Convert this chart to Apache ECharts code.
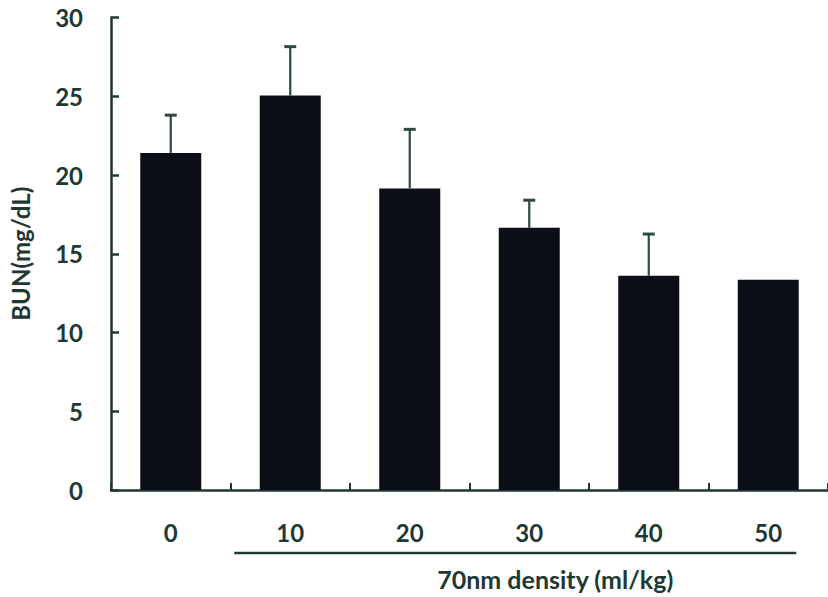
<!DOCTYPE html>
<html>
<head>
<meta charset="utf-8">
<script src="https://cdn.jsdelivr.net/npm/echarts@6/dist/echarts.min.js"></script>
<style>
  html, body { margin: 0; padding: 0; background: #ffffff; }
  #chart { width: 828px; height: 597px; }
</style>
</head>
<body>
<div id="chart"></div>
<script>
// BUN by 70nm particle dose
const categories = ['0', '10', '20', '30', '40', '50'];
const bunMeans = [21.4, 25.05, 19.15, 16.65, 13.6, 13.35];
const bunErrors = [2.4, 3.1, 3.75, 1.75, 2.65, null];
const yMin = 0;
const yMax = 30;
const yStep = 5;

const inkColor = '#1f3833';
const barColor = '#0b0d17';
const errColor = '#2e4844';
const fontFamily = 'Lato, "Open Sans", sans-serif';

const chart = echarts.init(document.getElementById('chart'), null, { renderer: 'svg' });

const errorData = categories.map((c, i) => [i, bunMeans[i], bunErrors[i]]);

chart.setOption({
  animation: false,
  backgroundColor: '#ffffff',
  grid: { left: 109, right: -5, top: 17.5, bottom: 107, containLabel: false },
  xAxis: {
    type: 'category',
    data: categories,
    boundaryGap: true,
    axisLine: { show: true, lineStyle: { color: inkColor, width: 2.5 } },
    axisTick: { show: true, inside: true, length: 7, lineStyle: { color: inkColor, width: 2 } },
    axisLabel: {
      margin: 30,
      color: inkColor,
      fontSize: 24,
      fontWeight: 'bold',
      fontFamily: fontFamily
    },
    splitLine: { show: false }
  },
  yAxis: {
    type: 'value',
    min: yMin,
    max: yMax,
    interval: yStep,
    name: 'BUN(mg/dL)',
    nameLocation: 'middle',
    nameGap: 79,
    nameTextStyle: {
      color: inkColor,
      fontSize: 24,
      fontWeight: 'bold',
      fontFamily: fontFamily
    },
    axisLine: { show: true, lineStyle: { color: inkColor, width: 2.5 } },
    axisTick: { show: true, inside: true, length: 8, lineStyle: { color: inkColor, width: 2.5 } },
    axisLabel: {
      margin: 28,
      color: inkColor,
      fontSize: 24,
      fontWeight: 'bold',
      fontFamily: fontFamily
    },
    splitLine: { show: false }
  },
  series: [
    {
      type: 'bar',
      data: bunMeans,
      barWidth: 61,
      itemStyle: { color: barColor },
      z: 2
    },
    {
      type: 'custom',
      data: errorData,
      z: 3,
      renderItem: function (params, api) {
        const err = api.value(2);
        if (err === null || err === undefined || isNaN(err) || err === '-') return null;
        const idx = api.value(0);
        const mean = api.value(1);
        const base = api.coord([idx, mean]);
        const top = api.coord([idx, mean + err]);
        const capHalf = 6;
        return {
          type: 'group',
          children: [
            {
              type: 'line',
              shape: { x1: base[0], y1: base[1], x2: top[0], y2: top[1] },
              style: { stroke: errColor, lineWidth: 2.2 }
            },
            {
              type: 'line',
              shape: { x1: top[0] - capHalf, y1: top[1], x2: top[0] + capHalf, y2: top[1] },
              style: { stroke: errColor, lineWidth: 3 }
            }
          ]
        };
      }
    }
  ]
});

// Group underline and axis title below the dosed categories
const x10 = chart.convertToPixel({ xAxisIndex: 0 }, categories[1]);
const x50 = chart.convertToPixel({ xAxisIndex: 0 }, categories[5]);
const y0 = chart.convertToPixel({ yAxisIndex: 0 }, yMin);
chart.setOption({
  graphic: [
    {
      type: 'line',
      shape: { x1: x10 - 56, y1: y0 + 63, x2: x50 + 28, y2: y0 + 63 },
      style: { stroke: inkColor, lineWidth: 2.5 }
    },
    {
      type: 'text',
      x: (x10 + x50) / 2 + 26,
      y: y0 + 89,
      style: {
        text: '70nm density (ml/kg)',
        fill: inkColor,
        font: 'bold 25px ' + fontFamily,
        align: 'center',
        verticalAlign: 'middle'
      }
    }
  ]
});
</script>
</body>
</html>
